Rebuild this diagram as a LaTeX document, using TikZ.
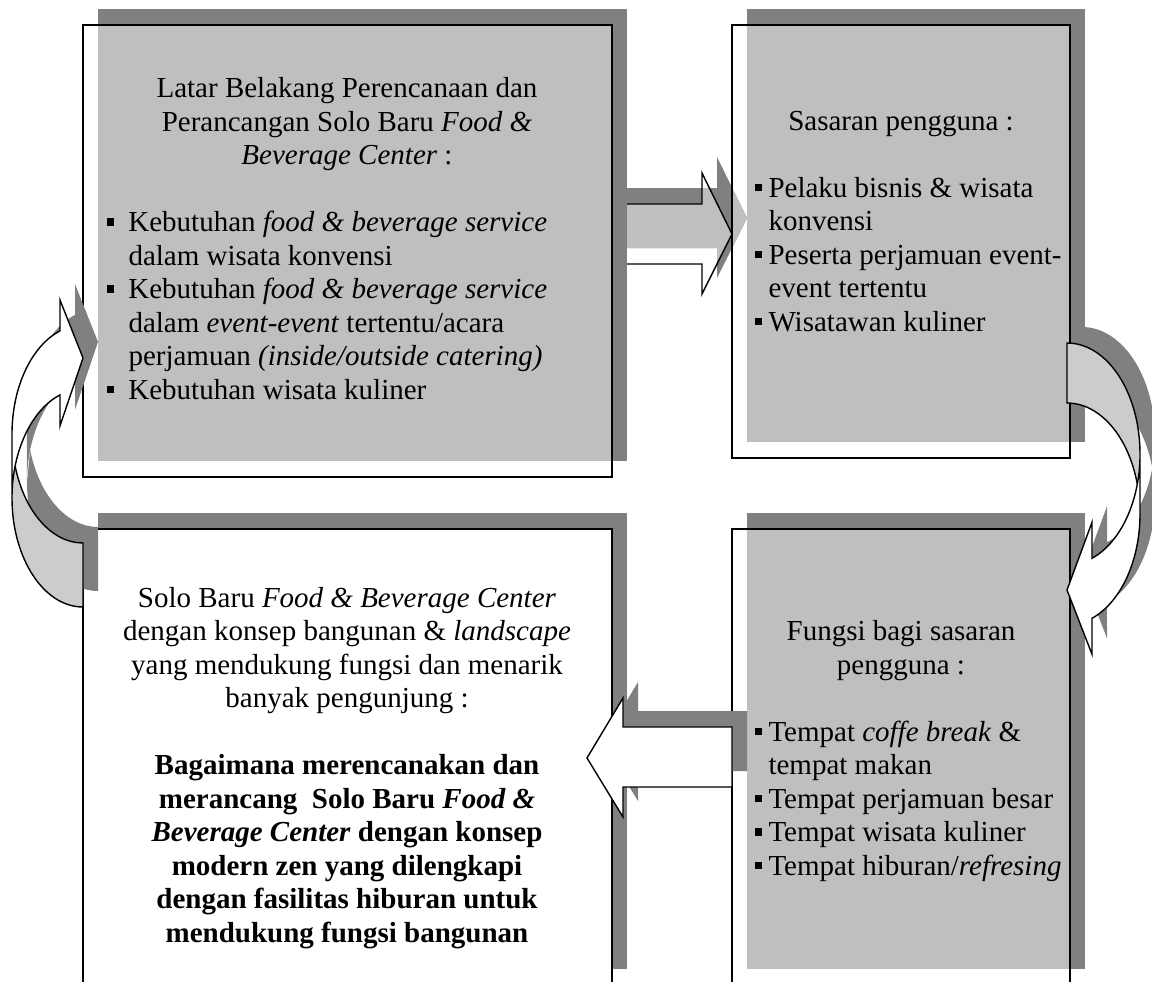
\documentclass[tikz,border=0pt]{standalone}
\usepackage{fontspec}
\setmainfont{Liberation Serif}
\definecolor{shadowgray}{gray}{0.5}
\definecolor{boxgray}{gray}{0.75}
\definecolor{backgray}{gray}{0.8}
\newcommand{\sqbul}{\rule[6pt]{7.5pt}{7.5pt}}
\begin{document}
\begin{tikzpicture}[x=1pt,y=-1pt,
  outl/.style={draw=black,line width=1.4pt,line join=miter},
  txt/.style={inner sep=0pt,font=\fontsize{29}{33.5}\selectfont},
  btxt/.style={inner sep=0pt,font=\fontsize{29}{33.5}\selectfont\bfseries},
  sh/.style={shift={(15,-16)}}]
\useasboundingbox (0,0) rectangle (1152,982);

% ---------- top arrow (under the boxes) ----------
\def\toparrow{(600,204) -- (702,204) -- (702,173) -- (732,234) -- (702,294) -- (702,264) -- (600,264) -- cycle}
\fill[shadowgray,sh] \toparrow;
\begin{scope}
  \clip[sh] \toparrow;
  \fill[boxgray] \toparrow;
\end{scope}
\begin{scope}
  \clip (732,0) rectangle (760,400);
  \fill[boxgray,sh] \toparrow;
\end{scope}
\draw[outl] (600,204) -- (702,204) -- (702,173) -- (732,234) -- (702,294) -- (702,264) -- (600,264);

% ---------- boxes ----------
% top left
\fill[shadowgray] (98,9) rectangle (627,461);
\fill[boxgray] (98,25) rectangle (612,461);
\draw[outl] (83,25) rectangle (612,477);
% top right
\fill[shadowgray] (747,9) rectangle (1085,442);
\fill[boxgray] (747,25) rectangle (1070,442);
\draw[outl] (732,25) rectangle (1070,458);
% bottom left
\fill[shadowgray] (98,513) rectangle (627,969);
\fill[white] (98,529) rectangle (612,969);
\draw[outl] (83,529) rectangle (612,985);
% bottom right
\fill[shadowgray] (747,513) rectangle (1085,969);
\fill[boxgray] (747,529) rectangle (1070,969);
\draw[outl] (732,529) rectangle (1070,985);

% ---------- bottom arrow ----------
\def\botarrow{(732,727) -- (623,727) -- (623,698) -- (587,758) -- (623,817) -- (623,787) -- (732,787) -- cycle}
\fill[shadowgray,sh] \botarrow;
\fill[white] \botarrow;
\draw[outl] \botarrow;

% ---------- left curved arrow ----------
\def\lcback{(12,498) arc[start angle=180,end angle=90,x radius=71,y radius=109] -- (83,543) arc[start angle=90,end angle=162.9,x radius=71,y radius=109] -- cycle}
\def\lcfront{(12,434) arc[start angle=180,end angle=251.1,x radius=71,y radius=109] -- (60,300) -- (83,358) -- (60,425.8) -- (60,394.9) arc[start angle=251.1,end angle=180,x radius=71,y radius=109] -- cycle}
\fill[shadowgray,sh] \lcback;
\fill[shadowgray,sh] \lcfront;
\fill[backgray] \lcback;
\draw[outl] (12,498) arc[start angle=180,end angle=90,x radius=71,y radius=109] -- (83,543) arc[start angle=90,end angle=162.9,x radius=71,y radius=109];
\fill[white] \lcfront;
\draw[outl] \lcfront;

% ---------- right curved arrow ----------
\def\rcback{(1140,454) arc[start angle=0,end angle=-90,x radius=73,y radius=111] -- (1067,403) arc[start angle=-90,end angle=-15.7,x radius=73,y radius=111] -- cycle}
\def\rcfront{(1140,514) arc[start angle=0,end angle=70,x radius=73,y radius=111] -- (1092,654.3) -- (1067,590) -- (1092,522.3) -- (1092,558.3) arc[start angle=70,end angle=0,x radius=73,y radius=111] -- cycle}
\fill[shadowgray,sh] \rcback;
\fill[shadowgray,sh] \rcfront;
\fill[backgray] \rcback;
\draw[outl] (1140,454) arc[start angle=0,end angle=-90,x radius=73,y radius=111] -- (1067,403) arc[start angle=-90,end angle=-15.7,x radius=73,y radius=111];
\fill[white] \rcfront;
\draw[outl] \rcfront;

% ---------- texts: top left ----------
\node[txt,anchor=base] (tl1) at (347,97.7) {Latar Belakang Perencanaan dan};
\node[txt,anchor=base] (tl2) at (347,131.2) {Perancangan Solo Baru \textit{Food \&}};
\node[txt,anchor=base] (tl3) at (347,164.7) {\textit{Beverage Center} :};
\node[txt,anchor=base west] (tlb1) at (106.7,231.7) {\sqbul\hspace{14pt}Kebutuhan \textit{food \& beverage service}};
\node[txt,anchor=base west] (tlb2) at (128.3,265.2) {dalam wisata konvensi};
\node[txt,anchor=base west] (tlb3) at (106.7,298.7) {\sqbul\hspace{14pt}Kebutuhan \textit{food \& beverage service}};
\node[txt,anchor=base west] (tlb4) at (128.3,332.2) {dalam \textit{event-event} tertentu/acara};
\node[txt,anchor=base west] (tlb5) at (128.3,365.7) {perjamuan \textit{(inside/outside catering)}};
\node[txt,anchor=base west] (tlb6) at (106.7,399.2) {\sqbul\hspace{14pt}Kebutuhan wisata kuliner};

% ---------- texts: top right ----------
\node[txt,anchor=base] (tr1) at (901,130) {Sasaran pengguna :};
\node[txt,anchor=base west] (trb1) at (754.3,197) {\sqbul\hspace{6.5pt}Pelaku bisnis \& wisata};
\node[txt,anchor=base west] (trb2) at (768.3,230.5) {konvensi};
\node[txt,anchor=base west] (trb3) at (754.3,264) {\sqbul\hspace{6.5pt}Peserta perjamuan event-};
\node[txt,anchor=base west] (trb4) at (768.3,297.5) {event tertentu};
\node[txt,anchor=base west] (trb5) at (754.3,331) {\sqbul\hspace{6.5pt}Wisatawan kuliner};

% ---------- texts: bottom left ----------
\node[txt,anchor=base] (bl1) at (347,607) {Solo Baru \textit{Food \& Beverage Center}};
\node[txt,anchor=base] (bl2) at (347,640.5) {dengan konsep bangunan \& \textit{landscape}};
\node[txt,anchor=base] (bl3) at (347,674) {yang mendukung fungsi dan menarik};
\node[txt,anchor=base] (bl4) at (347,707.5) {banyak pengunjung :};
\node[btxt,anchor=base] (bl5) at (347,774.5) {Bagaimana merencanakan dan};
\node[btxt,anchor=base] (bl6) at (347,808) {merancang\ \ Solo Baru \textit{Food \&}};
\node[btxt,anchor=base] (bl7) at (347,841.5) {\textit{Beverage Center} dengan konsep};
\node[btxt,anchor=base] (bl8) at (347,875) {modern zen yang dilengkapi};
\node[btxt,anchor=base] (bl9) at (347,908.5) {dengan fasilitas hiburan untuk};
\node[btxt,anchor=base] (bl10) at (347,942) {mendukung fungsi bangunan};

% ---------- texts: bottom right ----------
\node[txt,anchor=base] (br1) at (901,640.8) {Fungsi bagi sasaran};
\node[txt,anchor=base] (br2) at (901,674.3) {pengguna :};
\node[txt,anchor=base west] (brb1) at (754.3,741.3) {\sqbul\hspace{6.5pt}Tempat \textit{coffe break} \&};
\node[txt,anchor=base west] (brb2) at (768.3,774.8) {tempat makan};
\node[txt,anchor=base west] (brb3) at (754.3,808.3) {\sqbul\hspace{6.5pt}Tempat perjamuan besar};
\node[txt,anchor=base west] (brb4) at (754.3,841.8) {\sqbul\hspace{6.5pt}Tempat wisata kuliner};
\node[txt,anchor=base west] (brb5) at (754.3,875.3) {\sqbul\hspace{6.5pt}Tempat hiburan/\textit{refresing}};
\end{tikzpicture}
\end{document}
